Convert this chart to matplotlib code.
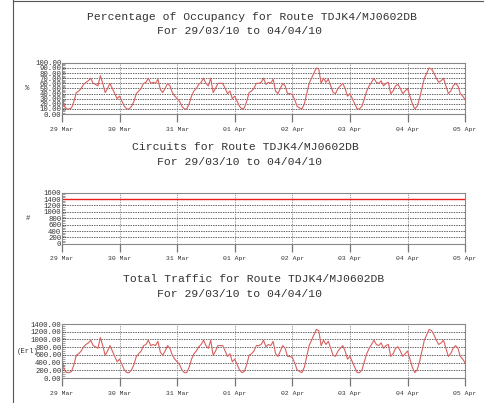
import numpy as np
from matplotlib import pyplot as plt
from matplotlib.ticker import MultipleLocator

# hourly samples, 29/03/10 00:00 .. 05/04/10 00:00
occupancy = [
    35, 15, 10, 10, 12, 25, 42, 45, 50, 58, 62, 65, 70, 60, 58, 55, 75, 60, 42, 50, 60, 50, 40, 30,
    35, 25, 15, 10, 10, 15, 25, 40, 45, 50, 60, 62, 70, 60, 62, 60, 68, 48, 42, 50, 60, 55, 42, 35,
    30, 25, 15, 10, 10, 20, 35, 45, 50, 58, 62, 70, 60, 55, 70, 42, 50, 60, 60, 60, 50, 40, 45, 30,
    35, 25, 15, 10, 12, 25, 42, 45, 50, 60, 60, 62, 70, 58, 62, 60, 68, 45, 40, 50, 60, 55, 40, 40,
    38, 28, 15, 12, 10, 20, 40, 60, 70, 80, 90, 88, 60, 70, 62, 68, 55, 42, 40, 50, 55, 60, 50, 35,
    40, 30, 20, 10, 10, 15, 30, 45, 55, 62, 70, 62, 60, 65, 55, 60, 62, 40, 45, 55, 58, 50, 40, 45,
    50, 35, 20, 10, 15, 30, 50, 70, 80, 90, 88, 80, 70, 62, 65, 70, 55, 40, 45, 55, 60, 55, 40, 35,
    28,
]
traffic = [
    490, 210, 140, 140, 170, 350, 590, 630, 700, 810, 870, 910, 980, 840, 810, 770, 1050, 840, 590, 700, 840, 700, 560, 420,
    490, 350, 210, 140, 140, 210, 350, 560, 630, 700, 840, 870, 980, 840, 870, 840, 950, 670, 590, 700, 840, 770, 590, 490,
    420, 350, 210, 140, 140, 280, 490, 630, 700, 810, 870, 980, 840, 770, 980, 590, 700, 840, 840, 840, 700, 560, 630, 420,
    490, 350, 210, 140, 170, 350, 590, 630, 700, 840, 840, 870, 980, 810, 870, 840, 950, 630, 560, 700, 840, 770, 560, 560,
    530, 390, 210, 170, 140, 280, 560, 840, 980, 1120, 1260, 1230, 840, 980, 870, 950, 770, 590, 560, 700, 770, 840, 700, 490,
    560, 420, 280, 140, 140, 210, 420, 630, 770, 870, 980, 870, 840, 910, 770, 840, 870, 560, 630, 770, 810, 700, 560, 630,
    700, 490, 280, 140, 210, 420, 700, 980, 1120, 1260, 1230, 1120, 980, 870, 910, 980, 770, 560, 630, 770, 840, 770, 560, 490,
    390,
]
circuits = 1400
day_labels = ["29 Mar", "30 Mar", "31 Mar", "01 Apr", "02 Apr", "03 Apr", "04 Apr", "05 Apr"]
subtitle = "For 29/03/10 to 04/04/10"

days = np.arange(len(occupancy)) / 24.0
mono = "Liberation Mono"

fig = plt.figure(figsize=(4.84, 4.03), dpi=100)
fig.add_artist(plt.Line2D([0.027, 0.027], [0, 1], color="#555555", lw=0.8))
fig.add_artist(plt.Line2D([0.027, 1], [0.997, 0.997], color="#555555", lw=0.8))

panels = [
    # title, title x, rect, data, ylim, step, fmt, ylabel
    ("Percentage of Occupancy for Route TDJK4/MJ0602DB", 0.521, [0.128, 0.717, 0.833, 0.127],
     occupancy, 100, 10, "{:.2f}", "%"),
    ("Circuits for Route TDJK4/MJ0602DB", 0.508, [0.128, 0.395, 0.833, 0.127],
     [circuits] * len(days), 1600, 200, "{:.0f}", "#"),
    ("Total Traffic for Route TDJK4/MJ0602DB", 0.525, [0.128, 0.062, 0.833, 0.134],
     traffic, 1400, 200, "{:.2f}", "(Erl)"),
]
title_y = [(0.959, 0.922), (0.635, 0.597), (0.308, 0.271)]

for (title, tx, rect, vals, top, step, fmt, ylab), (ty1, ty2) in zip(panels, title_y):
    fig.text(tx, ty1, title, ha="center", va="center", family=mono, fontsize=8.2, color="#333333")
    fig.text(0.494, ty2, subtitle, ha="center", va="center", family=mono, fontsize=8.2, color="#333333")

    ax = fig.add_axes(rect)
    ax.set_xlim(0, 7)
    ax.set_ylim(0, top)
    yt = np.arange(0, top + step / 2, step)
    ax.set_yticks(yt)
    ax.set_yticklabels([fmt.format(v) for v in yt], family=mono, fontsize=5.2, color="#333333")
    ax.yaxis.set_minor_locator(MultipleLocator(step / 4))
    ax.set_xticks(range(8))
    ax.set_xticklabels(day_labels, family=mono, fontsize=4.6, color="#333333")
    ax.tick_params(axis="x", direction="out", length=6, width=0.9, color="#777777", pad=3)
    ax.tick_params(axis="y", which="both", direction="in", length=2, width=0.5, color="#777777", pad=0.5)
    for s in ax.spines.values():
        s.set_color("#888888")
        s.set_linewidth(0.8)
    for v in yt[1:-1]:
        ax.axhline(v, color="#222222", lw=0.5, ls=(0, (2, 1.5)))
    for d in range(1, 7):
        ax.axvline(d, color="#777777", lw=0.5, ls=(0, (2, 1.5)))
    color = "#ee1c1c" if ylab == "#" else "#d96060"
    ax.plot(days, vals, color=color, lw=0.8 if ylab != "#" else 1.0)
    fig.text(0.057, rect[1] + rect[3] / 2, ylab, ha="center", va="center", family=mono,
             fontsize=5.2, color="#333333")

fig.savefig("out.png", dpi=100)
